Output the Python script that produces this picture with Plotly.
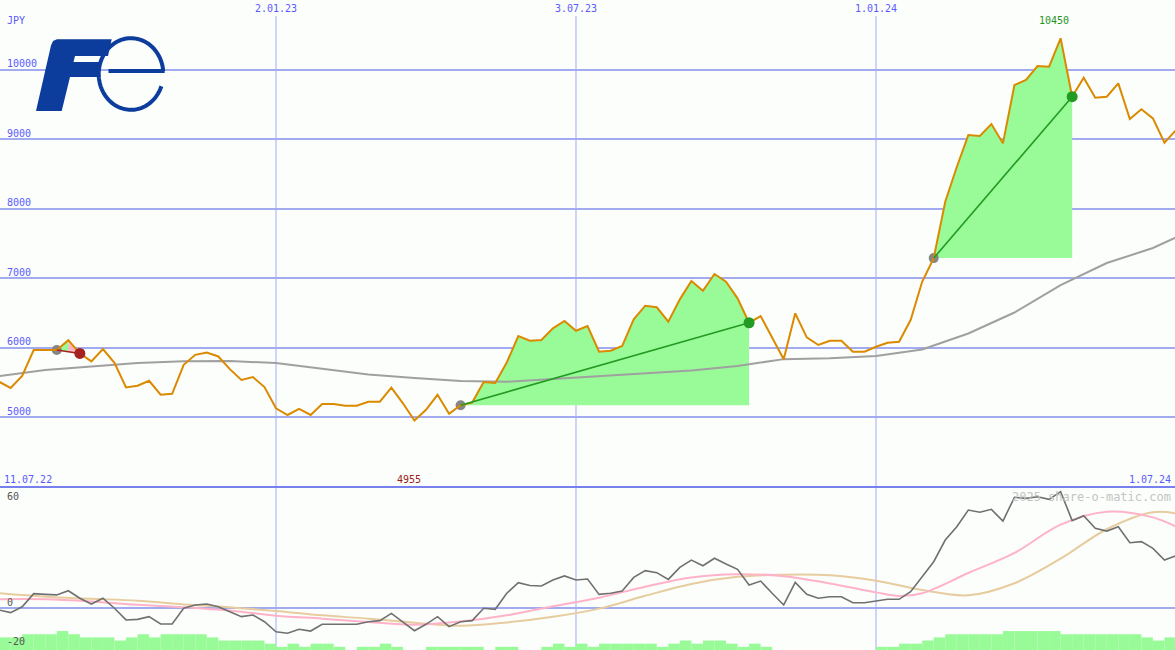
import numpy as np
import pandas as pd
import plotly.graph_objects as go

W, H = 1175, 650

# ---------------- data ----------------
start_date = "2022-07-18"
n_weeks = 103
price = [5513, 5423, 5595, 5969, 5969, 5969, 6110, 5920, 5806, 5983,
         5785, 5430, 5455, 5526, 5326, 5340, 5757, 5900, 5933, 5876,
         5694, 5540, 5580, 5436, 5132, 5035, 5122, 5035, 5193, 5193,
         5168, 5168, 5226, 5226, 5427, 5203, 4955, 5109, 5325, 5052,
         5175, 5213, 5510, 5495, 5790, 6170, 6102, 6112, 6281, 6386,
         6246, 6314, 5944, 5959, 6026, 6410, 6606, 6583, 6376, 6697,
         6961, 6821, 7061, 6951, 6712, 6361, 6457, 6151, 5835, 6496,
         6151, 6041, 6102, 6102, 5944, 5944, 6016, 6074, 6088, 6400,
         6950, 7290, 8100, 8600, 9059, 9045, 9217, 8940, 9778, 9850,
         10051, 10041, 10450, 9610, 9883, 9595, 9610, 9802, 9289, 9429,
         9299, 8949, 9131]

ma_weeks = [0, 4, 8, 12, 16, 20, 24, 28, 32, 36, 40, 44, 48, 52, 56, 60,
            64, 68, 72, 76, 80, 84, 88, 92, 96, 100, 102]
ma_values = [5595, 5681, 5732, 5782, 5806, 5811, 5782, 5696, 5617, 5566,
             5523, 5513, 5552, 5595, 5631, 5674, 5739, 5838, 5850, 5883,
             5976, 6206, 6508, 6903, 7219, 7435, 7589]

osc = [-1.3, -2.7, 0.5, 7.7, 7.3, 7.0, 9.3, 5.2, 2.0, 5.2,
       -0.3, -6.7, -6.4, -4.9, -8.9, -8.9, -0.3, 1.5, 2.0, 0.5,
       -2.2, -4.9, -4.0, -7.7, -13.2, -14.0, -11.8, -12.8, -9.1, -9.1,
       -9.1, -9.1, -7.7, -7.1, -3.1, -7.7, -12.6, -9.1, -4.9, -10.4,
       -7.7, -7.1, -0.3, -0.9, 7.9, 13.7, 12.2, 11.9, 15.2, 17.4,
       15.2, 15.7, 7.3, 7.9, 9.2, 16.6, 20.3, 19.2, 15.5, 22.1,
       26.1, 23.0, 27.1, 23.9, 21.0, 12.4, 14.6, 7.9, 1.5, 13.9,
       7.3, 5.2, 6.0, 6.0, 2.7, 2.7, 3.8, 4.6, 4.6, 8.8,
       17.0, 25.2, 37.1, 44.4, 53.5, 52.3, 53.9, 47.5, 60.5, 59.9,
       60.8, 59.4, 63.6, 47.7, 50.4, 43.5, 42.0, 44.4, 35.6, 36.2,
       32.5, 26.1, 28.5]

pink_weeks = [0, 4, 8, 12, 16, 20, 24, 28, 32, 36, 40, 44, 48, 52, 56, 60,
              64, 68, 72, 76, 78, 80, 84, 88, 92, 96, 100, 102]
pink_values = [4.6, 4.6, 3.4, 1.6, 0.3, -1.6, -4.4, -6.0, -7.8, -9.3, -7.6,
               -4.2, 0.8, 5.5, 11.5, 16.6, 18.3, 17.3, 13.3, 8.4, 6.4, 7.9,
               19.0, 30.0, 45.5, 52.6, 49.5, 44.4]

tan_weeks = [0, 4, 8, 12, 16, 20, 24, 28, 32, 36, 40, 44, 48, 52, 56, 60,
             64, 68, 72, 76, 80, 84, 88, 92, 96, 100, 102]
tan_values = [7.9, 6.0, 4.9, 3.8, 1.8, 0.2, -1.8, -4.2, -6.0, -8.2, -9.9,
              -8.1, -5.0, -0.5, 6.5, 13.0, 16.9, 18.1, 17.8, 14.8, 9.7, 6.8,
              13.4, 26.9, 43.0, 52.3, 51.7]

bar_levels = [4, 4, 5, 5, 5, 6, 5, 4, 4, 4, 3, 4, 5, 4, 5, 5, 5, 5, 4, 3,
              3, 3, 3, 2, 1, 2, 1, 2, 2, 1, 0, 1, 1, 2, 1, 0, 0, 1, 1, 1,
              1, 1, 0, 1, 1, 0, 0, 1, 2, 1, 2, 1, 2, 2, 2, 2, 2, 1, 2, 3,
              2, 3, 3, 2, 1, 2, 1, 0, 0, 0, 0, 0, 0, 0, 0, 0, 1, 1, 2, 2,
              3, 4, 5, 5, 5, 5, 5, 6, 6, 6, 6, 6, 5, 5, 5, 5, 5, 5, 5, 4,
              3, 4]

# signals (entry week, exit week)
signals = [(5, 7), (40, 65), (81, 93)]

price_ticks = [5000, 6000, 7000, 8000, 9000, 10000]
date_ticks = ["2023-01-02", "2023-07-03", "2024-01-01"]
date_tick_labels = ["2.01.23", "3.07.23", "1.01.24"]
osc_labels = ["60", "0", "-20"]
start_label = "11.07.22"
end_label = "1.07.24"
currency = "JPY"
watermark = "2025 share-o-matic.com"

# ---------------- helpers ----------------
dates = pd.date_range(start_date, periods=n_weeks, freq="7D")


def px(x):
    return x / W


def py(y):
    return 1 - y / H


SPLIT = 487
MAIN_DOM = [py(SPLIT), 1]
LOW_DOM = [0, py(SPLIT)]

GRID = "#a3abf0"
LABEL = "#5a5aff"
BG = "#fbfefb"
ORANGE = "#db8a00"
PALEGREEN = "#98fb98"
FONT = "DejaVu Sans Mono"

fig = go.Figure()

# bars in the lower panel
fig.add_trace(go.Bar(x=dates[:len(bar_levels)], y=bar_levels, offset=0,
                     width=7 * 86400000, marker=dict(color=PALEGREEN, line=dict(width=0)),
                     xaxis="x", yaxis="y3", hoverinfo="skip", showlegend=False))

# signal fills
for (s, e) in signals:
    p = price
    if p[e] >= p[s]:
        xs = list(dates[s:e + 1]) + [dates[e], dates[s]]
        ys = list(p[s:e + 1]) + [p[s], p[s]]
        fig.add_trace(go.Scatter(x=xs, y=ys, fill="toself", fillcolor=PALEGREEN,
                                 mode="lines", line=dict(width=0), hoverinfo="skip",
                                 showlegend=False))
    else:
        mid = (p[s] + p[e]) / 2
        m = (s + e) // 2
        fig.add_trace(go.Scatter(x=[dates[s], dates[m], dates[m], dates[s]],
                                 y=[p[s], p[m], mid, p[s]], fill="toself",
                                 fillcolor=PALEGREEN, mode="lines", line=dict(width=0),
                                 hoverinfo="skip", showlegend=False))
        fig.add_trace(go.Scatter(x=[dates[m], dates[e], dates[m], dates[m]],
                                 y=[p[m], p[e], mid, p[m]], fill="toself",
                                 fillcolor="#ffb6c1", mode="lines", line=dict(width=0),
                                 hoverinfo="skip", showlegend=False))

# moving average
fig.add_trace(go.Scatter(x=dates[ma_weeks], y=ma_values, mode="lines",
                         line=dict(color="#a0a0a0", width=2), hoverinfo="skip",
                         showlegend=False))

# entry markers
for (s, e) in signals:
    fig.add_trace(go.Scatter(x=[dates[s]], y=[price[s]], mode="markers",
                             marker=dict(color="#858585", size=10), hoverinfo="skip",
                             showlegend=False))

# price line
fig.add_trace(go.Scatter(x=dates, y=price, mode="lines",
                         line=dict(color=ORANGE, width=2), hoverinfo="skip",
                         showlegend=False))

for (s, e) in signals:
    up = price[e] >= price[s]
    col = "#239b23" if up else "#a52020"
    fig.add_trace(go.Scatter(x=[dates[s], dates[e]], y=[price[s], price[e]],
                             mode="lines", line=dict(color=col, width=1.6),
                             hoverinfo="skip", showlegend=False))
    fig.add_trace(go.Scatter(x=[dates[e]], y=[price[e]], mode="markers",
                             marker=dict(color=col, size=11), hoverinfo="skip",
                             showlegend=False))

# lower panel lines
fig.add_trace(go.Scatter(x=dates[tan_weeks], y=tan_values, mode="lines",
                         line=dict(color="#e6cc9e", width=2, shape="spline"),
                         xaxis="x", yaxis="y2", hoverinfo="skip", showlegend=False))
fig.add_trace(go.Scatter(x=dates[pink_weeks], y=pink_values, mode="lines",
                         line=dict(color="#ffb3c8", width=2, shape="spline"),
                         xaxis="x", yaxis="y2", hoverinfo="skip", showlegend=False))
fig.add_trace(go.Scatter(x=dates, y=osc, mode="lines",
                         line=dict(color="#707070", width=1.6),
                         xaxis="x", yaxis="y2", hoverinfo="skip", showlegend=False))

# ---------------- shapes ----------------
shapes = []
for d in date_ticks:
    shapes.append(dict(type="line", xref="x", yref="paper", x0=d, x1=d,
                       y0=0, y1=py(16), line=dict(color=GRID, width=1), layer="below"))
shapes.append(dict(type="line", xref="paper", yref="paper", x0=0, x1=1,
                   y0=py(SPLIT), y1=py(SPLIT), line=dict(color="#7880ee", width=2),
                   layer="above"))

# Fuji Electric style logo (F + e)
LOGO = "#0c3c9c"
F_pts = [(57, 39.3), (111.7, 39.3), (108.0, 56.0), (75.0, 56.0), (73.5, 62.0),
         (100.5, 62.0), (97.5, 77.0), (70.0, 77.0), (61.7, 111.0), (36.0, 111.0),
         (51.0, 45.5), (53.0, 41.0)]
f_path = "M " + " L ".join(f"{px(x):.5f},{py(y):.5f}" for x, y in F_pts) + " Z"
shapes.append(dict(type="path", xref="paper", yref="paper", path=f_path,
                   fillcolor=LOGO, line=dict(width=0), layer="above"))
cx, cy, rx, ry = 131.0, 74.0, 32.3, 35.8
th = np.radians(np.linspace(5, 340, 120))
arc = [(cx + rx * np.cos(t), cy - ry * np.sin(t)) for t in th]
e_path = "M " + " L ".join(f"{px(x):.5f},{py(y):.5f}" for x, y in arc)
shapes.append(dict(type="path", xref="paper", yref="paper", path=e_path,
                   line=dict(color=LOGO, width=4), layer="above"))
bar_y = cy - ry * np.sin(np.radians(5))
shapes.append(dict(type="line", xref="paper", yref="paper", x0=px(108.5),
                   x1=px(cx + rx * np.cos(np.radians(5)) + 1.5), y0=py(bar_y), y1=py(bar_y),
                   line=dict(color=LOGO, width=4), layer="above"))

# ---------------- annotations ----------------
ann = []


def txt(text, x, y, color=LABEL, xanchor="left", xref="paper", yref="paper",
        size=10, family=FONT, yshift=0, xshift=0):
    ann.append(dict(text=text, x=x, y=y, xref=xref, yref=yref, xanchor=xanchor,
                    yanchor="middle", showarrow=False, yshift=yshift, xshift=xshift,
                    font=dict(family=family, size=size, color=color)))


txt(currency, px(5), py(21))
for v in price_ticks:
    txt(str(v), px(5), v, yref="y", yshift=6)
for d, lab in zip(date_ticks, date_tick_labels):
    txt(lab, d, py(9), xref="x", xanchor="center")
txt(start_label, px(2), py(479))
txt(end_label, px(1173), py(479), xanchor="right")

imin = int(np.argmin(price))
imax = int(np.argmax(price))
txt(str(price[imin]), dates[imin], py(479), color="#a01818", xref="x",
    xanchor="center", xshift=-5)
txt(str(price[imax]), dates[imax], py(21), color="#1f961f", xref="x",
    xanchor="center", xshift=-7)

for lab, ypx in zip(osc_labels, [496, 602, 641]):
    txt(lab, px(5), py(ypx), color="#555555")

txt(watermark, px(1173), py(497), color="#c4c4c4", xanchor="right", size=12,
    family="DejaVu Sans Mono, monospace")

fig.update_layout(
    width=W, height=H, margin=dict(l=0, r=0, t=0, b=0, pad=0),
    paper_bgcolor=BG, plot_bgcolor=BG, showlegend=False,
    barmode="overlay", hovermode=False,
    xaxis=dict(range=["2022-07-18 13:26", "2024-06-30 09:20"], visible=False,
               showgrid=False, zeroline=False, domain=[0, 1]),
    yaxis=dict(domain=MAIN_DOM, range=[4000, 11000], tickvals=price_ticks,
               showticklabels=False, gridcolor=GRID, gridwidth=2, zeroline=False,
               ticks=""),
    yaxis2=dict(domain=LOW_DOM, range=[-23.18, 66.14], tickvals=[0],
                showticklabels=False, gridcolor=GRID, gridwidth=2, zeroline=False,
                anchor="x", ticks=""),
    yaxis3=dict(overlaying="y2", range=[0, 51.7], visible=False, anchor="x",
                showgrid=False),
    shapes=shapes, annotations=ann,
)

fig.write_html("out.html", config={"displayModeBar": False},
               post_script="document.body.style.margin='0';document.body.style.padding='0';"
                           "document.body.style.background='" + BG + "';")
